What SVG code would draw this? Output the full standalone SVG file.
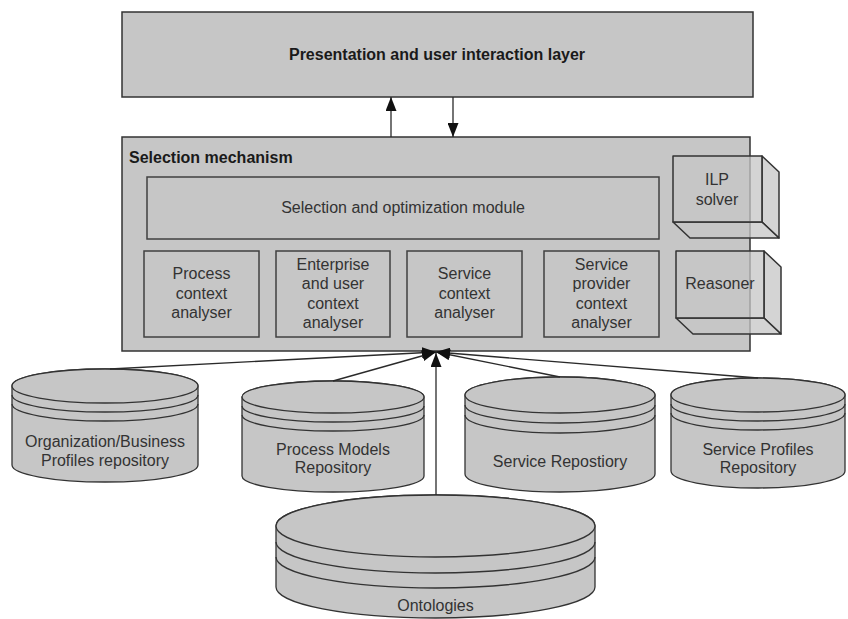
<svg xmlns="http://www.w3.org/2000/svg" width="848" height="619" viewBox="0 0 848 619">
  <style>
    .box { fill: #c6c6c6; stroke: #333; stroke-width: 1.5; }
    .inner { fill: #c6c6c6; stroke: #404040; stroke-width: 1.5; }
    .solid { fill: #c6c6c6; fill-opacity: 0.75; stroke: #333; stroke-width: 1.5; stroke-linejoin: round; }
    .cyl { fill: #c6c6c6; stroke: #333; stroke-width: 1.3; }
    .ring { fill: none; stroke: #333; stroke-width: 1.3; }
    .t { font-family: "Liberation Sans", Arial, sans-serif; font-size: 16px; fill: #333; text-anchor: middle; }
    .b { font-family: "Liberation Sans", Arial, sans-serif; font-size: 16px; font-weight: bold; fill: #1a1a1a; }
    .conn { stroke: #2a2a2a; stroke-width: 1.3; fill: none; marker-end: url(#ah); }
  </style>
  <defs>
    <marker id="ah" markerWidth="14" markerHeight="11" refX="14" refY="5.5" orient="auto" markerUnits="userSpaceOnUse">
      <path d="M0,0 L14,5.5 L0,11 Z" fill="#111"/>
    </marker>
  </defs>

  <!-- top layer -->
  <g id="presentation-layer">
    <rect class="box" x="122" y="12" width="631" height="85"/>
    <text class="b" x="437" y="60" text-anchor="middle">Presentation and user interaction layer</text>
  </g>

  <!-- selection mechanism container -->
  <g id="selection-mechanism">
    <rect class="box" x="122" y="137" width="628" height="214"/>
    <text class="b" x="129" y="163">Selection mechanism</text>
  </g>

  <g id="optimization-module">
    <rect class="inner" x="147" y="177" width="512" height="62"/>
    <text class="t" x="403" y="213">Selection and optimization module</text>
  </g>

  <g id="process-context">
    <rect class="inner" x="144" y="251" width="115" height="86"/>
    <text class="t" x="201.5" y="279">Process</text>
    <text class="t" x="201.5" y="299">context</text>
    <text class="t" x="201.5" y="318">analyser</text>
  </g>

  <g id="enterprise-context">
    <rect class="inner" x="276" y="251" width="114" height="86"/>
    <text class="t" x="333" y="270">Enterprise</text>
    <text class="t" x="333" y="289">and user</text>
    <text class="t" x="333" y="308.5">context</text>
    <text class="t" x="333" y="327.5">analyser</text>
  </g>

  <g id="service-context">
    <rect class="inner" x="407" y="251" width="115" height="86"/>
    <text class="t" x="464.5" y="279">Service</text>
    <text class="t" x="464.5" y="299">context</text>
    <text class="t" x="464.5" y="318">analyser</text>
  </g>

  <g id="provider-context">
    <rect class="inner" x="544" y="251" width="115" height="86"/>
    <text class="t" x="601.5" y="270">Service</text>
    <text class="t" x="601.5" y="289">provider</text>
    <text class="t" x="601.5" y="308.5">context</text>
    <text class="t" x="601.5" y="327.5">analyser</text>
  </g>

  <!-- 3D blocks -->
  <g id="ilp-solver">
    <polygon class="solid" points="762,156 779,172 779,238 762,222"/>
    <polygon class="solid" points="673,222 762,222 779,238 690,238"/>
    <rect class="solid" x="673" y="156" width="89" height="66"/>
    <text class="t" x="717" y="185">ILP</text>
    <text class="t" x="717" y="205">solver</text>
  </g>

  <g id="reasoner">
    <polygon class="solid" points="764,251 781,267 781,334 764,318"/>
    <polygon class="solid" points="676,318 764,318 781,334 693,334"/>
    <rect class="solid" x="676" y="251" width="88" height="67"/>
    <text class="t" x="720" y="289">Reasoner</text>
  </g>

  <!-- repositories -->
  <g id="org-profiles">
    <path class="cyl" d="M12,386 V465 A93,17 0 0 0 198,465 V386 A93,17 0 0 0 12,386 Z"/>
    <ellipse class="cyl" cx="105" cy="386" rx="93" ry="17"/>
    <path class="ring" d="M12,395 A93,17 0 0 0 198,395 M12,404 A93,17 0 0 0 198,404"/>
    <text class="t" x="105" y="447">Organization/Business</text>
    <text class="t" x="105" y="466">Profiles repository</text>
  </g>

  <g id="process-models">
    <path class="cyl" d="M242,397 V476 A91,16 0 0 0 424,476 V397 A91,16 0 0 0 242,397 Z"/>
    <ellipse class="cyl" cx="333" cy="397" rx="91" ry="16"/>
    <path class="ring" d="M242,406 A91,16 0 0 0 424,406 M242,415 A91,16 0 0 0 424,415"/>
    <text class="t" x="333" y="455">Process Models</text>
    <text class="t" x="333" y="473">Repository</text>
  </g>

  <g id="service-repository">
    <path class="cyl" d="M465,395 V474 A95,18 0 0 0 655,474 V395 A95,18 0 0 0 465,395 Z"/>
    <ellipse class="cyl" cx="560" cy="395" rx="95" ry="18"/>
    <path class="ring" d="M465,405 A95,18 0 0 0 655,405 M465,415 A95,18 0 0 0 655,415"/>
    <text class="t" x="560" y="467">Service Repostiory</text>
  </g>

  <g id="service-profiles">
    <path class="cyl" d="M671,395 V471 A87,17 0 0 0 845,471 V395 A87,17 0 0 0 671,395 Z"/>
    <ellipse class="cyl" cx="758" cy="395" rx="87" ry="17"/>
    <path class="ring" d="M671,404 A87,17 0 0 0 845,404 M671,413 A87,17 0 0 0 845,413"/>
    <text class="t" x="758" y="455">Service Profiles</text>
    <text class="t" x="758" y="473">Repository</text>
  </g>

  <g id="ontologies">
    <path class="cyl" d="M276,526 V587 A159.5,31 0 0 0 595,587 V526 A159.5,31 0 0 0 276,526 Z"/>
    <ellipse class="cyl" cx="435.5" cy="526" rx="159.5" ry="31"/>
    <path class="ring" d="M276,542 A159.5,31 0 0 0 595,542 M276,557 A159.5,31 0 0 0 595,557"/>
    <text class="t" x="435.5" y="611">Ontologies</text>
  </g>

  <!-- connectors -->
  <g id="connectors">
    <line class="conn" x1="391" y1="137" x2="391" y2="97"/>
    <line class="conn" x1="453" y1="97" x2="453" y2="137"/>
    <line class="conn" x1="110" y1="369" x2="436" y2="352"/>
    <line class="conn" x1="333" y1="381" x2="436" y2="352"/>
    <line class="conn" x1="436" y1="495" x2="436" y2="353"/>
    <line class="conn" x1="560" y1="377" x2="436" y2="352"/>
    <line class="conn" x1="758" y1="378" x2="436" y2="352"/>
  </g>
</svg>
